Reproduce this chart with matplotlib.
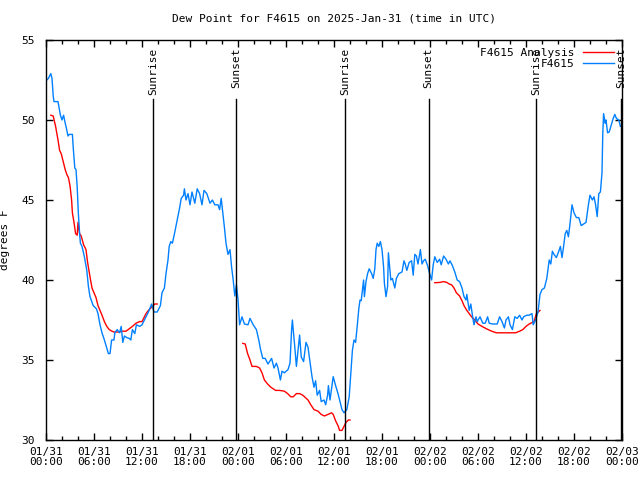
import numpy as np
import matplotlib
matplotlib.use("Agg")
import matplotlib.pyplot as plt
from matplotlib.ticker import MultipleLocator

# hours since 2025-01-31 00:00 UTC
obs_hours = [0.1, 0.3, 0.6, 0.75, 0.9, 1.0, 1.5, 1.7, 1.8, 2.0, 2.2, 2.4, 2.5, 2.75, 2.9, 3.3, 3.4, 3.6,
             3.75, 3.9, 4.04, 4.2, 4.3, 4.5, 4.8, 5.1, 5.3, 5.5, 5.9, 6.3, 6.5, 6.75, 7.0, 7.3, 7.5, 7.8,
             8.0, 8.2, 8.5, 8.6, 8.9, 9.2, 9.4, 9.6, 9.8, 10.1, 10.4, 10.6, 10.8, 11.1, 11.3, 11.7, 12.0,
             12.4, 12.8, 13.2, 13.5, 13.9, 14.3, 14.5, 14.8, 15.0, 15.25, 15.4, 15.6, 15.8, 16.1, 16.4,
             16.7, 16.9, 17.2, 17.3, 17.5, 17.75, 18.0, 18.25, 18.6, 18.9, 19.2, 19.5, 19.75, 20.1, 20.5,
             20.8, 21.1, 21.5, 21.7, 21.9, 22.1, 22.3, 22.5, 22.75, 23.0, 23.2, 23.4, 23.6, 23.8, 24.0,
             24.2, 24.5, 24.8, 25.25, 25.5, 25.9, 26.3, 26.6, 26.8, 27.1, 27.4, 27.75, 28.2, 28.5, 28.8,
             29.0, 29.3, 29.5, 29.8, 30.25, 30.5, 30.7, 30.8, 30.9, 31.1, 31.3, 31.5, 31.7, 31.9, 32.2,
             32.5, 32.75, 33.0, 33.25, 33.5, 33.7, 33.9, 34.2, 34.4, 34.75, 34.96, 35.2, 35.3, 35.5, 35.9,
             36.2, 36.5, 36.75, 37.0, 37.25, 37.6, 37.9, 38.1, 38.3, 38.5, 38.7, 38.9, 39.1, 39.25, 39.4,
             39.7, 39.8, 40.0, 40.2, 40.4, 40.7, 40.9, 41.1, 41.25, 41.4, 41.6, 41.8, 42.0, 42.2, 42.3,
             42.5, 42.7, 42.8, 43.1, 43.3, 43.6, 43.8, 44.1, 44.5, 44.75, 44.9, 45.1, 45.4, 45.7, 45.9,
             46.1, 46.3, 46.5, 46.8, 47.0, 47.2, 47.4, 47.7, 47.9, 48.2, 48.4, 48.6, 48.9, 49.2, 49.4,
             49.7, 50.0, 50.3, 50.5, 50.8, 51.1, 51.4, 51.7, 52.0, 52.25, 52.5, 52.6, 52.9, 53.1, 53.3,
             53.5, 53.75, 53.9, 54.25, 54.6, 54.9, 55.2, 55.4, 55.8, 56.4, 56.7, 57.0, 57.3, 57.5, 57.8,
             58.0, 58.3, 58.6, 58.9, 59.2, 59.5, 59.7, 60.1, 60.4, 60.75, 60.9, 61.2, 61.5, 61.75, 62.0,
             62.3, 62.6, 62.75, 62.9, 63.1, 63.3, 63.5, 63.8, 64.1, 64.3, 64.5, 64.7, 64.9, 65.1, 65.3,
             65.5, 65.75, 66.0, 66.3, 66.6, 66.9, 67.2, 67.5, 67.8, 68.0, 68.3, 68.5, 68.7, 68.9, 69.1,
             69.3, 69.5, 69.6, 69.7, 69.9, 70.0, 70.2, 70.4, 70.6, 70.9, 71.1, 71.3, 71.6, 71.8]
obs_dewpt = [52.5, 52.6, 52.9, 52.6, 51.5, 51.15, 51.15, 50.6, 50.3, 50.0, 50.3, 49.8, 49.6, 49.0, 49.1, 49.1, 48.3, 47.0,
             46.9, 45.8, 44.2, 42.9, 42.3, 42.1, 41.45, 40.6, 39.6, 38.96, 38.4, 38.2, 37.9, 37.2, 36.7, 36.25, 35.9, 35.4,
             35.4, 36.25, 36.25, 36.7, 36.9, 36.7, 37.1, 36.1, 36.5, 36.4, 36.35, 36.25, 36.9, 36.65, 37.2, 37.1, 37.2,
             37.6, 38.0, 38.5, 38.0, 38.0, 38.4, 39.2, 39.5, 40.4, 41.25, 42.1, 42.4, 42.3, 43.0, 43.75,
             44.5, 45.1, 45.3, 45.7, 45.0, 45.4, 44.7, 45.5, 44.8, 45.7, 45.4, 44.7, 45.6, 45.4, 44.8,
             45.0, 44.7, 44.7, 44.4, 45.1, 44.2, 43.3, 42.3, 41.6, 41.9, 40.8, 40.0, 39.0, 39.7, 38.8,
             37.2, 37.7, 37.25, 37.2, 37.6, 37.2, 36.9, 36.25, 35.7, 35.1, 35.1, 34.75, 35.1, 34.5, 34.8,
             34.5, 33.75, 34.3, 34.2, 34.4, 34.8, 36.9, 37.5, 36.9, 35.8, 34.6, 35.6, 36.56, 35.2, 34.9,
             36.1, 35.8, 34.9, 33.96, 33.3, 33.7, 32.8, 33.1, 32.4, 32.5, 32.2, 32.8, 33.4, 32.5, 33.96,
             33.4, 32.9, 32.4, 31.9, 31.7, 31.9, 32.7, 34.2, 35.6, 36.25, 36.1, 37.1, 38.2, 38.75, 38.7,
             40.0, 38.96, 39.9, 40.4, 40.7, 40.4, 40.1, 40.7, 41.9, 42.3, 42.1, 42.4, 41.9, 40.8, 39.8,
             38.96, 39.6, 41.7, 40.0, 40.1, 39.5, 40.1, 40.4, 40.5, 41.2, 41.0, 40.6, 41.1, 41.2, 40.3,
             41.6, 41.5, 41.0, 41.9, 41.0, 41.2, 41.3, 40.9, 40.5, 40.0, 40.95, 41.45, 41.1, 41.3, 40.95,
             41.5, 41.3, 41.0, 41.2, 40.9, 40.5, 40.0, 39.9, 39.5, 38.96, 38.75, 39.1, 38.1, 38.5, 37.8,
             37.2, 37.7, 37.4, 37.7, 37.3, 37.3, 37.7, 37.3, 37.25, 37.25, 37.7, 37.4, 37.0, 37.5, 37.7,
             37.2, 36.9, 37.7, 37.6, 37.8, 37.5, 37.7, 37.8, 37.8, 37.9, 37.2, 37.5, 38.0, 39.1, 39.4,
             39.5, 40.1, 40.7, 41.25, 41.0, 41.8, 41.6, 41.4, 41.8, 42.1, 41.4, 42.1, 42.9, 43.1, 42.7,
             43.5, 44.7, 44.2, 43.9, 43.9, 43.4, 43.5, 43.6, 44.7, 45.3, 45.0, 45.2, 44.7, 43.96, 45.4,
             45.5, 46.7, 49.2, 50.4, 49.8, 50.0, 49.2, 49.25, 49.6, 50.1, 50.35, 50.1, 50.0, 49.6]

# analysis series, NaN marks a gap
ana_hours = [0.6, 0.9, 1.2, 1.5, 1.7, 1.9, 2.2, 2.4, 2.6, 2.8, 3.0, 3.2, 3.3, 3.5, 3.7, 3.9, 4.0, 4.2, 4.4,
             4.7, 5.0, 5.2, 5.5, 5.75, 6.0, 6.25, 6.5, 6.75, 7.0, 7.3, 7.6, 7.9, 8.25, 8.5, 9.0, 9.6,
             10.0, 10.4, 10.8, 11.25, 11.7, 12.0, 12.5, 12.8, 13.2, 13.6, 13.9, 14.2,
             24.6, 24.9, 25.2, 25.5, 25.75, 26.3, 26.7, 27.0, 27.3, 27.7, 28.1, 28.7, 29.2, 29.8, 30.2,
             30.6, 30.9, 31.3, 31.7, 32.1, 32.75, 33.1, 33.5, 34.0, 34.4, 34.8, 35.25, 35.7, 35.9, 36.2,
             36.5, 36.7, 37.0, 37.2, 37.5, 37.8, 38.0, 38.3,
             48.6, 49.25, 49.7, 50.1, 50.4, 50.7, 51.0, 51.3, 51.7, 52.0, 52.25, 52.6, 52.9, 53.2, 53.6,
             54.0, 54.5, 55.1, 55.7, 56.3, 56.9, 57.5, 58.2, 58.7, 59.2, 59.6, 60.0, 60.4, 60.6, 61.0,
             61.3, 61.75]
ana_dewpt = [50.3, 50.25, 49.6, 48.75, 48.1, 47.9, 47.3, 46.9, 46.6, 46.4, 45.9, 45.0, 44.2, 43.6, 42.9, 42.8, 43.6, 42.9, 42.75,
             42.2, 41.9, 41.1, 40.2, 39.5, 39.2, 38.9, 38.4, 38.1, 37.8, 37.4, 37.1, 36.9, 36.8, 36.75, 36.75, 36.8,
             36.8, 36.95, 37.1, 37.3, 37.4, 37.4, 37.9, 38.1, 38.3, 38.5, 38.5, np.nan,
             36.04, 36.0, 35.4, 35.0, 34.6, 34.6, 34.5, 34.2, 33.75, 33.5, 33.3, 33.1, 33.1, 33.05, 32.9,
             32.7, 32.7, 32.9, 32.9, 32.8, 32.5, 32.2, 31.9, 31.8, 31.6, 31.5, 31.6, 31.7, 31.6, 31.2,
             30.9, 30.6, 30.6, 30.8, 31.1, 31.25, 31.25, np.nan,
             39.83, 39.85, 39.9, 39.85, 39.75, 39.7, 39.5, 39.2, 39.0, 38.7, 38.4, 38.1, 37.9, 37.7, 37.5,
             37.25, 37.1, 36.94, 36.8, 36.7, 36.7, 36.7, 36.7, 36.7, 36.8, 36.9, 37.1, 37.25, 37.3, 37.4,
             37.9, 38.1]

sun_hours = [13.42, 23.8, 37.42, 47.83, 61.3, 71.85]
sun_labels = ["Sunrise", "Sunset", "Sunrise", "Sunset", "Sunrise", "Sunset"]

tick_dates = ["01/31"] * 4 + ["02/01"] * 4 + ["02/02"] * 4 + ["02/03"]
tick_times = ["00:00", "06:00", "12:00", "18:00"] * 3 + ["00:00"]

FONT = "DejaVu Sans Mono"
plt.rcParams["font.family"] = FONT
plt.rcParams["font.size"] = 8

fig = plt.figure(figsize=(6.4, 4.8), dpi=100)
ax = fig.add_axes([46 / 640, 40 / 480, 576 / 640, 400 / 480])

ax.plot(ana_hours, ana_dewpt, color="#ff0000", lw=1.0, label="F4615 Analysis")
ax.plot(obs_hours, obs_dewpt, color="#0080ff", lw=1.0, label="F4615")

for h, lab in zip(sun_hours, sun_labels):
    ax.axvline(h, ymin=0, ymax=0.8525, color="black", lw=1.0)
    ax.text(h, 0.98, lab, rotation=90, ha="center", va="top",
            transform=ax.get_xaxis_transform(), fontsize=8)

ax.set_xlim(0, 72)
ax.set_ylim(30, 55)
ax.xaxis.set_minor_locator(MultipleLocator(2))
ax.yaxis.set_major_locator(MultipleLocator(5))
ax.set_xticks(np.arange(0, 73, 6))
ax.set_xticklabels([d + "\n" + t for d, t in zip(tick_dates, tick_times)], linespacing=1.0)
ax.tick_params(which="both", direction="in", top=True, right=True, width=1.0)
ax.tick_params(which="major", length=5, pad=5)
ax.tick_params(which="minor", length=3)
ax.tick_params(axis="y", pad=8)
for s in ax.spines.values():
    s.set_linewidth(1.0)

ax.set_ylabel("degrees F")
ax.yaxis.set_label_coords(-36 / 576, 0.5)
ax.set_title("Dew Point for F4615 on 2025-Jan-31 (time in UTC)", fontsize=8, pad=13)

leg = ax.legend(loc="upper right", frameon=False, markerfirst=False, fontsize=8,
                handlelength=2.8, handletextpad=0.8, borderaxespad=0.3,
                labelspacing=0.1)

fig.savefig("out.png", dpi=100)
